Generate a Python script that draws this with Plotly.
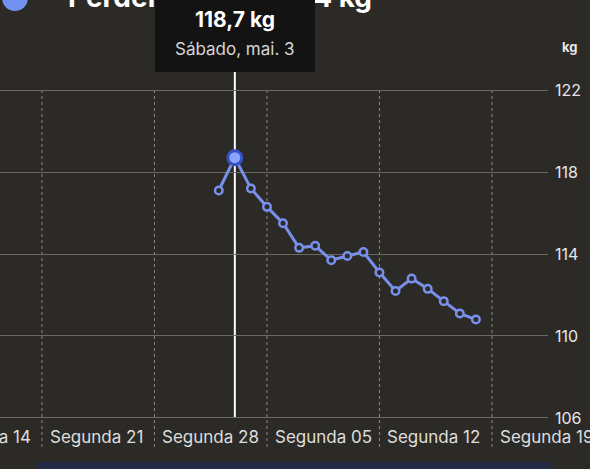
import plotly.graph_objects as go
import pandas as pd

# ---- data ----
dates = pd.date_range("2025-05-02", "2025-05-18", freq="D")
weights = [117.1, 118.7, 117.2, 116.3, 115.5, 114.3, 114.4, 113.7, 113.9,
           114.1, 113.1, 112.2, 112.8, 112.3, 111.7, 111.1, 110.8]
week_ticks = ["2025-04-14", "2025-04-21", "2025-04-28", "2025-05-05",
              "2025-05-12", "2025-05-19"]
week_labels = ["Segunda 14", "Segunda 21", "Segunda 28", "Segunda 05",
               "Segunda 12", "Segunda 19"]
y_ticks = [106, 110, 114, 118, 122]
selected_date = "2025-05-03"
selected_label = "Sábado, mai. 3"
title_text = "Perder peso até 114 kg"
unit = "kg"

# ---- style ----
BG = "#2c2a26"
LINE = "#7890ea"
FONT = "Inter"
x_range = [pd.Timestamp("2025-04-18 09:20"), pd.Timestamp("2025-05-22 11:40")]
y_range = [105.9, 122.1]

sel_idx = list(dates).index(pd.Timestamp(selected_date))
sel_val = weights[sel_idx]

fig = go.Figure()
fig.add_trace(go.Scatter(
    x=dates, y=weights, mode="lines+markers",
    line=dict(color=LINE, width=3),
    marker=dict(symbol="circle", size=7.5, color=BG,
                line=dict(color=LINE, width=2.5)),
    hoverinfo="skip", showlegend=False,
))
fig.add_trace(go.Scatter(
    x=[dates[sel_idx]], y=[sel_val], mode="markers",
    marker=dict(symbol="circle", size=14, color="#8aa3ff",
                line=dict(color="#3552c4", width=3)),
    hoverinfo="skip", showlegend=False,
))

shapes = []
# dashed weekly verticals
for t in week_ticks:
    shapes.append(dict(type="line", xref="x", yref="paper", x0=t, x1=t,
                       ysizemode="pixel", yanchor=1, y0=-2, y1=-359,
                       line=dict(color="#8d8a83", width=1, dash="3px,3px"),
                       layer="below"))
# selection line
shapes.append(dict(type="line", xref="x", yref="paper",
                   x0=selected_date, x1=selected_date,
                   ysizemode="pixel", yanchor=0, y0=2, y1=348,
                   line=dict(color="#ffffff", width=2), layer="below"))
# icon circle
shapes.append(dict(type="circle", xref="paper", yref="paper",
                   xsizemode="pixel", xanchor=0, x0=2, x1=28,
                   ysizemode="pixel", yanchor=1, y0=77, y1=103,
                   fillcolor="#7290f0", line=dict(width=0)))
# bottom bar
shapes.append(dict(type="rect", xref="paper", yref="paper",
                   x0=38/548, x1=552/548,
                   ysizemode="pixel", yanchor=0, y0=-42, y1=-60,
                   fillcolor="#252a47", line=dict(width=0)))

annotations = []
# title (drawn first so the tooltip covers it)
annotations.append(dict(text=f"<b>{title_text}</b>", xref="paper", x=66/548,
                        yref="paper", y=1, yshift=91, showarrow=False,
                        xanchor="left", yanchor="middle",
                        font=dict(family=FONT, size=28, color="#ffffff")))

span = (x_range[1] - x_range[0])
for t, lab in zip(week_ticks, week_labels):
    ts = pd.Timestamp(t)
    common = dict(text=lab, showarrow=False, xanchor="left", yanchor="middle",
                  yref="paper", y=0, yshift=-17,
                  font=dict(family=FONT, size=17, color="#dedede"))
    if x_range[0] <= ts <= x_range[1]:
        annotations.append(dict(xref="x", x=t, xshift=6, **common))
    else:
        annotations.append(dict(xref="paper", x=(ts - x_range[0]) / span,
                                xshift=6, **common))

# tooltip box
annotations.append(dict(text=" ", xref="x", x=selected_date,
                        yref="paper", y=1, yshift=16, showarrow=False,
                        xanchor="center", yanchor="bottom",
                        width=160, height=95, bgcolor="#131313",
                        borderpad=0, borderwidth=0))
val_text = f"{sel_val:.1f}".replace(".", ",") + f" {unit}"
annotations.append(dict(text=f"<b>{val_text}</b>", xref="x", x=selected_date,
                        yref="paper", y=1, yshift=69, showarrow=False,
                        xanchor="center", yanchor="middle",
                        font=dict(family=FONT, size=21, color="#ffffff")))
annotations.append(dict(text=selected_label, xref="x", x=selected_date,
                        yref="paper", y=1, yshift=39, showarrow=False,
                        xanchor="center", yanchor="middle",
                        font=dict(family=FONT, size=17, color="#d6d6d6")))
annotations.append(dict(text=f"<b>{unit}</b>", xref="paper", x=569/548,
                        yref="paper", y=1, yshift=41, showarrow=False,
                        xanchor="center", yanchor="middle",
                        font=dict(family=FONT, size=13, color="#e6e6e6")))

fig.update_layout(
    width=590, height=469,
    margin=dict(l=0, r=42, t=88, b=49, pad=0),
    paper_bgcolor=BG, plot_bgcolor=BG,
    xaxis=dict(type="date", range=x_range, showgrid=False, zeroline=False,
               showticklabels=False, showline=False, fixedrange=True),
    yaxis=dict(range=y_range, side="right", tickvals=y_ticks,
               showgrid=True, gridcolor="#6b6963", gridwidth=1,
               zeroline=False, showline=False, ticks="",
               ticklabelstandoff=6,
               tickfont=dict(family=FONT, size=16, color="#e6e6e6"),
               fixedrange=True),
    shapes=shapes, annotations=annotations,
    showlegend=False,
)

fig.write_html("out.html", config={"displayModeBar": False},
               post_script="document.body.style.margin='0';"
                           "document.body.style.overflow='hidden';")
